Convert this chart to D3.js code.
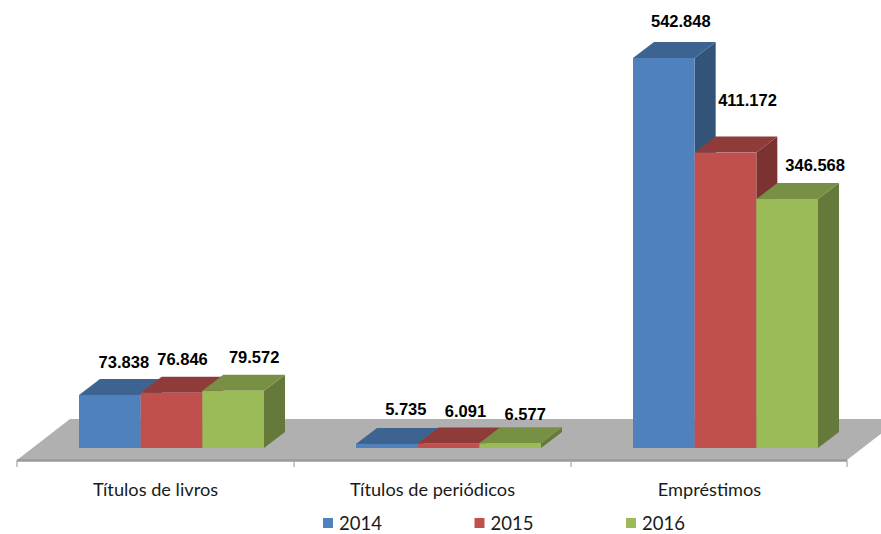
<!DOCTYPE html>
<html>
<head>
<meta charset="utf-8">
<script src="https://cdn.jsdelivr.net/npm/d3@7"></script>
<style>
  html, body { margin: 0; padding: 0; background: #fff; }
  svg { display: block; }
</style>
</head>
<body>
<div id="chart"></div>
<script>
const categories = ['Títulos de livros', 'Títulos de periódicos', 'Empréstimos'];
const years = ['2014', '2015', '2016'];
const values2014 = [73838, 5735, 542848];
const values2015 = [76846, 6091, 411172];
const values2016 = [79572, 6577, 346568];
const series = [values2014, values2015, values2016];

const width = 881, height = 534;
const frontColors = ['#4f81bd', '#c0504d', '#9bbb59'];
const topColors = ['#3d6491', '#8f3b39', '#779043'];
const sideColors = ['#325479', '#7a3331', '#657a3a'];

// bar depth of the fake 3D, floor depth, floor front edge
const depthX = 21, depthY = 16;
const floorX = 53, floorY = 41, floorFront = 460;

// label nudges [dx, dy] from the back top centre of each bar, Excel placed them by hand
const labelNudge = [
  [[-7, -11], [-10, -12], [0, -12]],
  [[-2, -13], [-4, -11], [-6, -7]],
  [[-4, -15], [1, -31], [7, -12]]
];

const svg = d3.select('#chart').append('svg')
  .attr('width', width)
  .attr('height', height);

const x0 = d3.scaleBand().domain(categories).range([17, 848]);
const x1 = d3.scaleBand().domain(years).range([62, 247]);
const y = d3.scaleLinear().domain([0, 542848]).range([448, 58]);

// floor
const floorLeft = x0.range()[0], floorRight = x0.range()[1] - 1;
svg.append('polygon')
  .attr('points', [
    [floorLeft, floorFront],
    [floorLeft + floorX, floorFront - floorY],
    [floorRight + floorX, floorFront - floorY],
    [floorRight, floorFront]
  ].join(' '))
  .attr('fill', '#b0b0b0');

svg.append('line')
  .attr('x1', floorLeft).attr('x2', floorRight)
  .attr('y1', floorFront + 0.5).attr('y2', floorFront + 0.5)
  .attr('stroke', '#9a9a9a').attr('stroke-width', 2.5);

// tick marks sit between the categories
const tickPos = categories.map(c => x0(c)).concat(floorRight);
svg.selectAll('.tick-mark')
  .data(tickPos)
  .enter().append('line')
  .attr('class', 'tick-mark')
  .attr('x1', d => d).attr('x2', d => d)
  .attr('y1', floorFront).attr('y2', floorFront + 7)
  .attr('stroke', '#a6a6a6').attr('stroke-width', 1.2);

// bars
categories.forEach((cat, i) => {
  years.forEach((yr, s) => {
    const left = x0(cat) + x1(yr);
    const right = left + x1.bandwidth();
    const base = y(0);
    const top = y(series[s][i]);
    const g = svg.append('g').attr('class', 'bar');

    g.append('polygon')
      .attr('points', [
        [right, top], [right + depthX, top - depthY],
        [right + depthX, base - depthY], [right, base]
      ].join(' '))
      .attr('fill', sideColors[s]);

    g.append('polygon')
      .attr('points', [
        [left, top], [left + depthX, top - depthY],
        [right + depthX, top - depthY], [right, top]
      ].join(' '))
      .attr('fill', topColors[s]);

    g.append('rect')
      .attr('x', left)
      .attr('y', top)
      .attr('width', x1.bandwidth())
      .attr('height', base - top)
      .attr('fill', frontColors[s]);
  });
});

// value labels
const ptBr = d3.formatLocale({decimal: ',', thousands: '.', grouping: [3], currency: ['', '']});
const fmt = ptBr.format(',');

categories.forEach((cat, i) => {
  years.forEach((yr, s) => {
    const cx = x0(cat) + x1(yr) + x1.bandwidth() / 2 + depthX;
    const cy = y(series[s][i]) - depthY;
    svg.append('text')
      .attr('x', cx + labelNudge[i][s][0])
      .attr('y', cy + labelNudge[i][s][1])
      .attr('text-anchor', 'middle')
      .style('font-family', '"Liberation Sans", Arial, sans-serif')
      .style('font-weight', 'bold')
      .style('font-size', '16.5px')
      .attr('fill', '#000')
      .text(fmt(series[s][i]));
  });
});

// category labels
const xAxis = svg.append('g')
  .attr('transform', `translate(0,${floorFront + 20})`)
  .call(d3.axisBottom(x0).tickSize(0).tickPadding(3));
xAxis.select('.domain').remove();
xAxis.selectAll('text')
  .style('font-family', 'Lato, "Noto Sans", sans-serif')
  .style('font-size', '18.2px')
  .attr('fill', '#1a1a1a');

// legend
const legendX = d3.scalePoint().domain(years).range([323, 626]);
const legend = svg.selectAll('.legend-item')
  .data(years)
  .enter().append('g')
  .attr('class', 'legend-item')
  .attr('transform', d => `translate(${legendX(d)},518)`);

legend.append('rect')
  .attr('width', 10).attr('height', 10)
  .attr('fill', (d, i) => frontColors[i]);

legend.append('text')
  .attr('x', 16).attr('y', 12)
  .style('font-family', 'Lato, "Noto Sans", sans-serif')
  .style('font-size', '18.5px')
  .attr('fill', '#1a1a1a')
  .text(d => d);
</script>
</body>
</html>
